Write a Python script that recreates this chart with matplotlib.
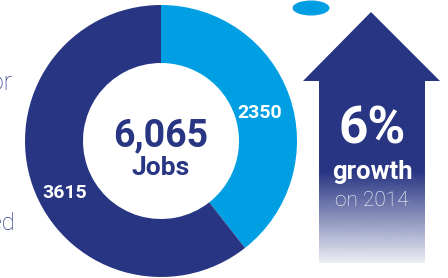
import numpy as np
import matplotlib.pyplot as plt
from matplotlib.patches import Polygon, Ellipse

plt.rcParams['font.family'] = ['Roboto', 'DejaVu Sans']

# data
values = [2350, 3615]
value_labels = ['2350', '3615']
total_jobs = 6065
growth_pct = 6
growth_year = 2014

navy = '#283583'
light_blue = '#009fe3'

W, H = 448, 278
fig = plt.figure(figsize=(W / 100, H / 100), dpi=100)
ax = fig.add_axes([0, 0, 1, 1])

# donut (pixel coords, y measured from bottom)
cx, cy, r = 161, H - 141, 136
wedges, _ = ax.pie(values, startangle=90, counterclock=False, center=(cx, cy),
                   radius=r, colors=[light_blue, navy],
                   wedgeprops=dict(width=58, linewidth=0))
ax.set_xlim(0, W)
ax.set_ylim(0, H)
ax.set_aspect('equal')
ax.axis('off')

ax.text(cx, H - 136, f'{total_jobs:,}', ha='center', va='center',
        fontsize=27, fontweight='bold', color=navy)
ax.text(cx, H - 168, 'Jobs', ha='center', va='center',
        fontsize=19, fontweight='bold', color=navy)
ax.text(260, H - 113, value_labels[0], ha='center', va='center',
        fontsize=14, fontweight='bold', color='white')
ax.text(65, H - 193, value_labels[1], ha='center', va='center',
        fontsize=14, fontweight='bold', color='white')

# clipped text on the left edge
ax.text(12, H - 90, 'for', ha='right', va='baseline', fontsize=18,
        fontweight='light', color=navy)
ax.text(15, H - 230, 'employed', ha='right', va='baseline', fontsize=17,
        fontweight='light', color=navy)

# small ellipse at top
ax.add_patch(Ellipse((311, H - 8), 37, 15, color=light_blue, lw=0))

# arrow with gradient
pts = [(371, 12), (440, 81), (425, 81), (425, 263), (319, 263), (319, 81), (303, 81)]
arrow = Polygon([(x, H - y) for x, y in pts], closed=True, facecolor='none',
                edgecolor='none')
ax.add_patch(arrow)
ys = np.linspace(12, 263, 300)
alpha = np.clip(1 - (ys - 172) / (272 - 172), 0, 1)
grad = np.zeros((300, 1, 4))
grad[..., :3] = np.array([0x28, 0x35, 0x83]) / 255
grad[:, 0, 3] = alpha
im = ax.imshow(grad, extent=(303, 440, H - 263, H - 12), aspect='auto',
               origin='upper', interpolation='bilinear')
im.set_clip_path(arrow)
ax.set_xlim(0, W)
ax.set_ylim(0, H)

ax.text(372, H - 130, f'{growth_pct}%', ha='center', va='center',
        fontsize=37, fontweight='bold', color='white')
ax.text(372, H - 172, 'growth', ha='center', va='center',
        fontsize=18.5, fontweight='bold', color='white')
ax.text(372, H - 201, f'on {growth_year}', ha='center', va='center',
        fontsize=15, fontweight='light', color='white')

fig.savefig('out.png', dpi=100)
